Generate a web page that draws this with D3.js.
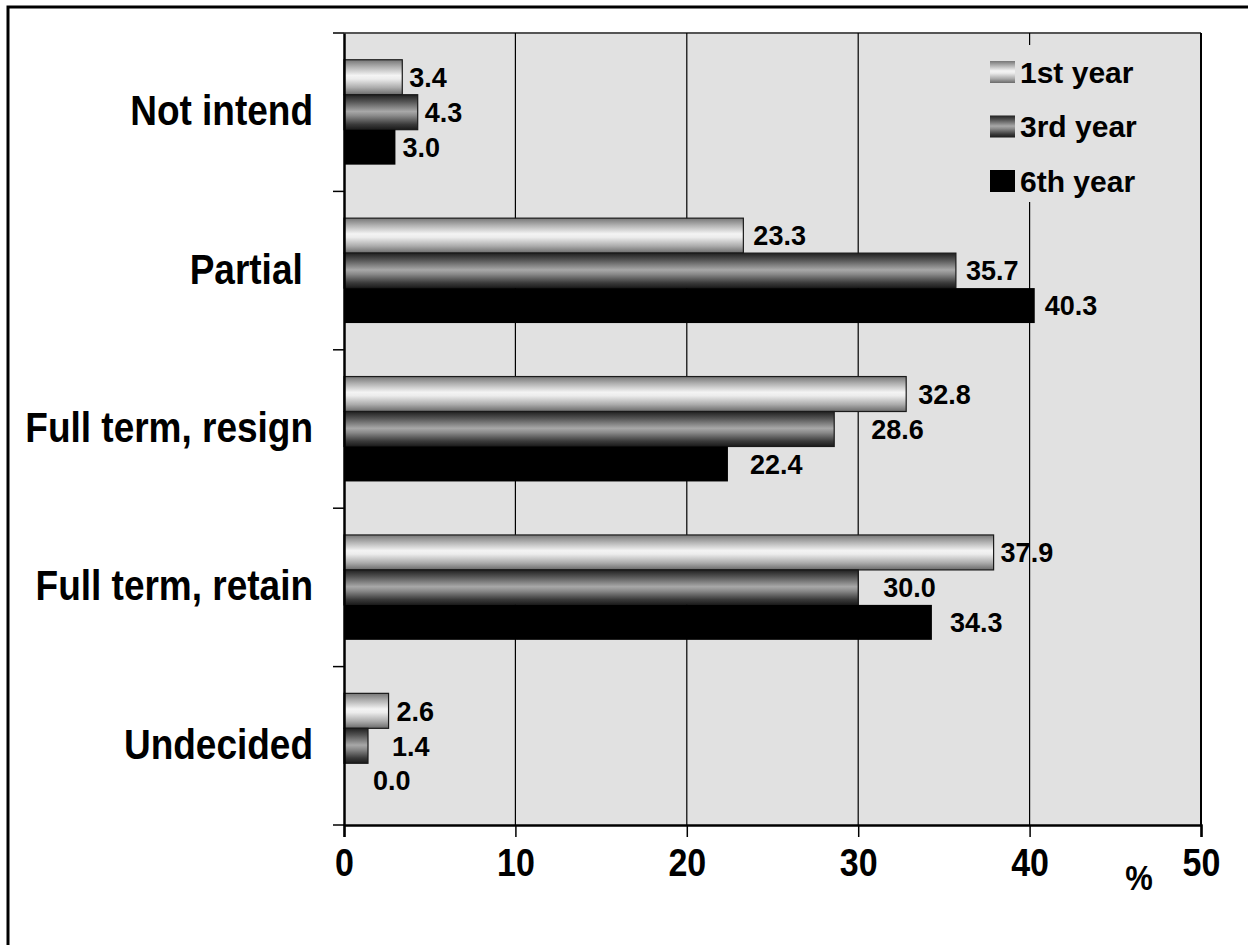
<!DOCTYPE html>
<html>
<head>
<meta charset="utf-8">
<script src="https://cdn.jsdelivr.net/npm/d3@7"></script>
<style>
  body { margin: 0; background: #fff; }
  text { font-family: "Liberation Sans", Arial, sans-serif; font-weight: bold; }
</style>
</head>
<body>
<div id="chart"></div>
<script>
// data
const categories = ["Not intend", "Partial ", "Full term, resign", "Full term, retain", "Undecided"]
const seriesNames = ["1st year", "3rd year", "6th year"]
const year1 = [3.4, 23.3, 32.8, 37.9, 2.6]
const year3 = [4.3, 35.7, 28.6, 30.0, 1.4]
const year6 = [3.0, 40.3, 22.4, 34.3, 0.0]
const xTicks = [0, 10, 20, 30, 40, 50]

// gap between bar end and its label (px), Excel nudged some labels
const labelGap = [
  [7, 10, 12, 7, 8],
  [7, 10, 37, 25, 24],
  [7, 10, 22, 18, 29]
]

const W = 1248, H = 945
const margin = {top:33, right:47, bottom:120, left:344}
const width = 1201 - margin.left,
  height = 825 - margin.top

const svg = d3.select("#chart")
  .append("svg")
    .attr("width", W)
    .attr("height", H)

// gradients
const defs = svg.append("defs")
function grad(id, stops){
  const g = defs.append("linearGradient")
    .attr("id", id)
    .attr("x1", 0).attr("y1", 0).attr("x2", 0).attr("y2", 1)
  stops.forEach(s => g.append("stop").attr("offset", s[0]).attr("stop-color", s[1]))
}
grad("g1", [[0,"#767676"],[0.2,"#b0b0b0"],[0.45,"#f4f4f4"],[0.55,"#ececec"],[0.8,"#ababab"],[1,"#6a6a6a"]])
grad("g3", [[0,"#202020"],[0.2,"#555"],[0.48,"#a8a8a8"],[0.6,"#8a8a8a"],[0.85,"#3a3a3a"],[1,"#1a1a1a"]])
const fills = ["url(#g1)", "url(#g3)", "#000"]

// outer frame
svg.append("rect")
  .attr("x", 8).attr("y", 7)
  .attr("width", W + 20).attr("height", H + 20)
  .style("fill", "none")
  .style("stroke", "#000")
  .style("stroke-width", 3)

const g = svg.append("g")
  .attr("transform", "translate(" + margin.left + "," + margin.top + ")")

const x = d3.scaleLinear().domain([0, 50]).range([0, width])
const y = d3.scaleBand().domain(categories).range([0, height])
const y1 = d3.scaleBand().domain(seriesNames).range([0, y.bandwidth()]).paddingOuter(0.765)

// plot background
g.append("rect")
  .attr("width", width).attr("height", height)
  .style("fill", "#e1e1e1")
g.append("line")
  .attr("x1", 0).attr("x2", width).attr("y1", 0).attr("y2", 0)
  .style("stroke", "#555").style("stroke-width", 2)
g.append("line")
  .attr("x1", width).attr("x2", width).attr("y1", 0).attr("y2", height)
  .style("stroke", "#000").style("stroke-width", 2)

// grid lines
g.selectAll(null)
  .data([10, 20, 30, 40])
  .enter()
  .append("line")
  .attr("x1", d => x(d)).attr("x2", d => x(d))
  .attr("y1", 0).attr("y2", height)
  .style("stroke", "#000")
  .style("stroke-width", 1.2)

// bars
const all = [year1, year3, year6]
const rows = []
categories.forEach((c, i) => {
  seriesNames.forEach((s, j) => {
    rows.push({cat:c, ser:s, si:j, ci:i, v:all[j][i]})
  })
})

g.selectAll(null)
  .data(rows)
  .enter()
  .append("rect")
  .attr("x", x(0))
  .attr("y", d => y(d.cat) + y1(d.ser))
  .attr("width", d => x(d.v) - x(0))
  .attr("height", y1.bandwidth())
  .style("fill", d => fills[d.si])
  .style("stroke", d => d.si == 2 ? "none" : "#1a1a1a")
  .style("stroke-width", 1.2)

g.selectAll(null)
  .data(rows)
  .enter()
  .append("text")
  .attr("x", d => x(d.v) + labelGap[d.si][d.ci])
  .attr("y", d => y(d.cat) + y1(d.ser) + y1.bandwidth() / 2)
  .attr("dy", "0.36em")
  .style("font-size", "27px")
  .text(d => d.v.toFixed(1))

// x axis
const xAxis = g.append("g")
  .attr("transform", "translate(0," + height + ")")
  .call(d3.axisBottom(x).tickValues(xTicks).tickSize(12).tickFormat(d => d))
xAxis.select(".domain").style("stroke-width", 2.5)
xAxis.selectAll(".tick line").style("stroke-width", 1.5)
xAxis.selectAll(".tick text")
  .style("font-size", "34px")
  .attr("y", 21)
  .attr("transform", "scale(1,1.14)")
  .attr("fill", "#000")

g.append("text")
  .attr("transform", "translate(" + (1139 - margin.left) + "," + (890 - margin.top) + ") scale(1,1.12)")
  .attr("text-anchor", "middle")
  .style("font-size", "31px")
  .text("%")

// y axis
const yAxis = g.append("g")
  .call(d3.axisLeft(y).tickValues([]).tickSizeOuter(0))
yAxis.select(".domain").style("stroke-width", 2.5)
g.selectAll(null)
  .data(categories.map(c => y(c)).concat(height))
  .enter()
  .append("line")
  .attr("x1", -11).attr("x2", 0)
  .attr("y1", d => d).attr("y2", d => d)
  .style("stroke", "#000")
  .style("stroke-width", 1.5)

g.selectAll(null)
  .data(categories)
  .enter()
  .append("text")
  .attr("transform", d => "translate(-31," + (y(d) + y.bandwidth() / 2 + 13) + ") scale(1,1.16)")
  .attr("text-anchor", "end")
  .attr("xml:space", "preserve")
  .style("white-space", "pre")
  .style("font-size", "37px")
  .text(d => d)

// legend
const legend = g.append("g")
  .attr("transform", "translate(" + (975 - margin.left) + "," + (45 - margin.top) + ")")
legend.append("rect")
  .attr("width", 180).attr("height", 157)
  .style("fill", "#e1e1e1")
seriesNames.forEach((s, j) => {
  const item = legend.append("g")
    .attr("transform", "translate(15," + (16 + j * 54.5) + ")")
  item.append("rect")
    .attr("width", 25).attr("height", 22)
    .style("fill", fills[j])
  item.append("text")
    .attr("x", 30).attr("y", 11)
    .attr("dy", "0.36em")
    .style("font-size", "30px")
    .text(s)
})
</script>
</body>
</html>
